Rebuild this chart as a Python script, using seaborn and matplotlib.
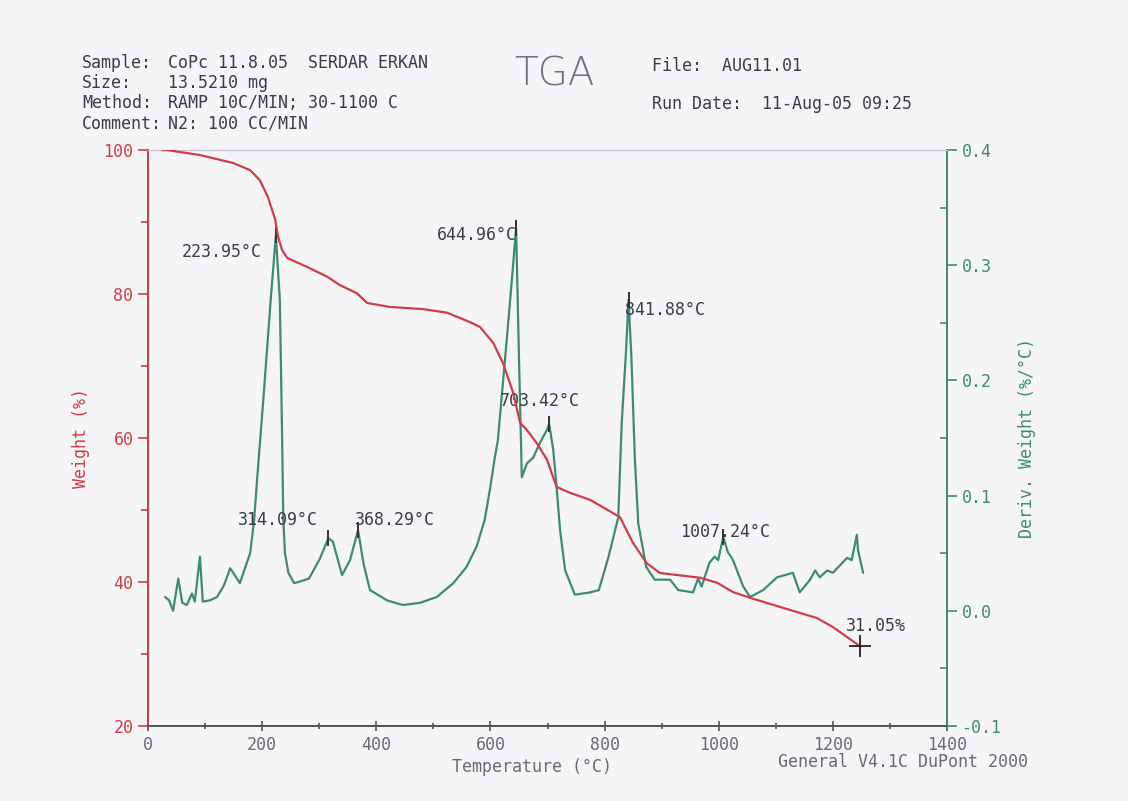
import matplotlib
matplotlib.use("Agg")
import matplotlib.pyplot as plt
import seaborn as sns
import pandas as pd
from matplotlib.ticker import MultipleLocator, FixedLocator

# ---------------- data ----------------
weight_T = [26, 33, 91, 149, 179, 196, 210, 223, 228, 235, 244, 279, 314, 336, 366, 384,
            424, 482, 524, 564, 582, 605, 622, 640, 652, 664, 681, 699, 716, 739, 775,
            827, 850, 874, 897, 967, 997, 1025, 1055, 1113, 1172, 1200, 1248]
weight_pct = [100, 100, 99.3, 98.2, 97.2, 95.8, 93.5, 90.3, 87.9, 86.1, 85.0, 83.75, 82.4,
              81.25, 80.1, 78.75, 78.2, 77.9, 77.4, 76.1, 75.4, 73.2, 70.4, 66.25, 62.1,
              61.1, 59.3, 57.0, 53.2, 52.4, 51.4, 49.0, 45.4, 42.6, 41.25, 40.6, 39.9,
              38.6, 37.8, 36.4, 35.0, 33.75, 31.05]

deriv_T = [30, 37, 44, 53, 60, 68, 77, 82, 91, 96, 108, 121, 133, 144, 161, 172, 179, 186,
           191, 202, 215, 224, 231, 235, 237, 240, 246, 256, 270, 282, 301, 316, 324, 340,
           354, 368, 378, 389, 419, 447, 477, 506, 535, 558, 576, 590, 599, 608, 613, 628,
           638, 645, 650, 655, 664, 675, 687, 699, 703, 710, 716, 722, 731, 748, 775, 790,
           807, 824, 830, 837, 842, 847, 853, 859, 873, 888, 915, 929, 955, 964, 970, 984,
           993, 999, 1008, 1016, 1025, 1043, 1055, 1078, 1102, 1130, 1142, 1160, 1169,
           1177, 1190, 1200, 1225, 1233, 1242, 1244, 1253]
deriv_val = [0.012, 0.009, 0.0, 0.028, 0.007, 0.005, 0.015, 0.008, 0.047, 0.008, 0.009,
             0.012, 0.022, 0.037, 0.024, 0.040, 0.050, 0.079, 0.113, 0.183, 0.27, 0.326,
             0.27, 0.15, 0.08, 0.05, 0.033, 0.024, 0.026, 0.028, 0.045, 0.063, 0.06, 0.031,
             0.044, 0.070, 0.04, 0.018, 0.009, 0.005, 0.007, 0.012, 0.024, 0.038, 0.056,
             0.079, 0.105, 0.134, 0.148, 0.232, 0.29, 0.332, 0.22, 0.116, 0.128, 0.133,
             0.146, 0.157, 0.162, 0.14, 0.107, 0.07, 0.035, 0.014, 0.016, 0.018, 0.047,
             0.081, 0.163, 0.22, 0.27, 0.22, 0.133, 0.076, 0.038, 0.027, 0.027, 0.018,
             0.016, 0.028, 0.021, 0.042, 0.047, 0.044, 0.064, 0.051, 0.044, 0.021, 0.012,
             0.018, 0.029, 0.033, 0.016, 0.027, 0.035, 0.029, 0.035, 0.033, 0.046, 0.044,
             0.066, 0.053, 0.033]

peak_T = [224, 316, 368, 645, 703, 842, 1008]
peak_D = [0.326, 0.063, 0.070, 0.332, 0.162, 0.27, 0.064]
peak_labels = ["223.95°C", "314.09°C", "368.29°C", "644.96°C", "703.42°C", "841.88°C",
               "1007.24°C"]
final_T = 1248
final_W = 31.05
final_label = "31.05%"

x_ticks = [0, 200, 400, 600, 800, 1000, 1200, 1400]
left_ticks = [20, 40, 60, 80, 100]
right_ticks = [-0.1, 0.0, 0.1, 0.2, 0.3, 0.4]

# ---------------- style ----------------
sns.set_style("ticks")
plt.rcParams["font.family"] = ["DejaVu Sans Mono", "DejaVu Sans"]
plt.rcParams["axes.unicode_minus"] = False

RED = "#cf3c4c"
GREEN = "#3e8c6e"
TXT = "#3c3c44"
BG = "#f5f5f8"
FS = 12

fig = plt.figure(figsize=(11.28, 8.01), dpi=100, facecolor=BG)
ax = fig.add_axes([148 / 1128, 1 - 726 / 801, (947 - 148) / 1128, (726 - 150) / 801])
ax.set_facecolor(BG)
ax2 = ax.twinx()

df_w = pd.DataFrame({"T": weight_T, "W": weight_pct})
df_d = pd.DataFrame({"T": deriv_T, "D": deriv_val})

sns.lineplot(data=df_d, x="T", y="D", ax=ax2, color=GREEN, lw=1.6, zorder=2)
sns.lineplot(data=df_w, x="T", y="W", ax=ax, color=RED, lw=1.6, zorder=3)
ax.set_zorder(ax2.get_zorder() + 1)
ax.patch.set_visible(False)
ax2.patch.set_visible(True)
ax2.patch.set_facecolor(BG)

ax.set_xlim(0, 1400)
ax.set_ylim(20, 100)
ax2.set_ylim(-0.1, 0.4)

ax.xaxis.set_major_locator(FixedLocator(x_ticks))
ax.xaxis.set_minor_locator(MultipleLocator(100))
ax.yaxis.set_major_locator(FixedLocator(left_ticks))
ax.yaxis.set_minor_locator(MultipleLocator(10))
ax2.yaxis.set_major_locator(FixedLocator(right_ticks))
ax2.yaxis.set_minor_locator(MultipleLocator(0.05))
ax2.set_yticklabels([f"{v:.1f}" for v in right_ticks])

ax.tick_params(axis="x", which="both", direction="inout", colors="#555555",
               labelcolor="#6a6a70", labelsize=FS, length=7, width=1.2)
ax.tick_params(axis="x", which="minor", length=5)
ax.tick_params(axis="y", which="both", direction="out", colors=RED, labelcolor=RED,
               labelsize=FS, length=7, width=1.2)
ax.tick_params(axis="y", which="minor", length=5)
ax2.tick_params(axis="y", which="both", direction="out", colors=GREEN, labelcolor=GREEN,
                labelsize=FS, length=7, width=1.2)
ax2.tick_params(axis="y", which="minor", direction="in", length=5)

for a in (ax, ax2):
    a.spines["left"].set_color(RED)
    a.spines["right"].set_color(GREEN)
    a.spines["bottom"].set_color("#555555")
    a.spines["top"].set_color("#c8c8d0")
    for s in a.spines.values():
        s.set_linewidth(1.3)
    a.spines["top"].set_linewidth(0.8)

ax.set_xlabel("Temperature (°C)", color="#6a6a70", fontsize=FS)
ax.set_ylabel("Weight (%)", color=RED, fontsize=FS, labelpad=10)
ax2.set_ylabel("Deriv. Weight (%/°C)", color=GREEN, fontsize=FS, labelpad=12)
ax.xaxis.set_label_coords(0.48, -0.055)
ax2.set_xlabel("")

# peak markers and labels
ax2.plot(peak_T, peak_D, ls="none", marker="|", ms=12, mew=1.4, color="#333333", zorder=5)
offsets = {
    "223.95°C": ((-14, -17), "right"),
    "314.09°C": ((-10, 18), "right"),
    "368.29°C": ((-3, 10), "left"),
    "644.96°C": ((1, -7), "right"),
    "703.42°C": ((-9, 23), "center"),
    "841.88°C": ((-4, -10), "left"),
    "1007.24°C": ((2, 5), "center"),
}
for t, d, lab in zip(peak_T, peak_D, peak_labels):
    off, ha = offsets[lab]
    ax2.annotate(lab, (t, d), xytext=off, textcoords="offset pixels", ha=ha, va="center",
                 fontsize=FS, color=TXT, zorder=6)

ax.plot([final_T], [final_W], ls="none", marker="+", ms=16, mew=1.3, color="#222222", zorder=6)
ax.annotate(final_label, (final_T, final_W), xytext=(-14, 20), textcoords="offset pixels",
            ha="left", va="center", fontsize=FS, color=TXT)

# header text
def ftxt(x, y, s, **kw):
    fig.text(x / 1128, 1 - y / 801, s, va="center", fontsize=kw.pop("fontsize", FS),
             color=kw.pop("color", TXT), **kw)

ftxt(82, 63, "Sample:")
ftxt(168, 63, "CoPc 11.8.05  SERDAR ERKAN")
ftxt(82, 83, "Size:")
ftxt(168, 83, "13.5210 mg")
ftxt(82, 103, "Method:")
ftxt(168, 103, "RAMP 10C/MIN; 30-1100 C")
ftxt(82, 124, "Comment:")
ftxt(168, 124, "N2: 100 CC/MIN")
ftxt(554, 75, "TGA", fontsize=28, ha="center", color="#707078",
     family="DejaVu Sans", fontweight="ultralight")
ftxt(652, 66, "File:  AUG11.01")
ftxt(652, 104, "Run Date:  11-Aug-05 09:25")
ftxt(1028, 762, "General V4.1C DuPont 2000", ha="right", color="#6a6a70")

fig.savefig("out.png", dpi=100, facecolor=BG)
